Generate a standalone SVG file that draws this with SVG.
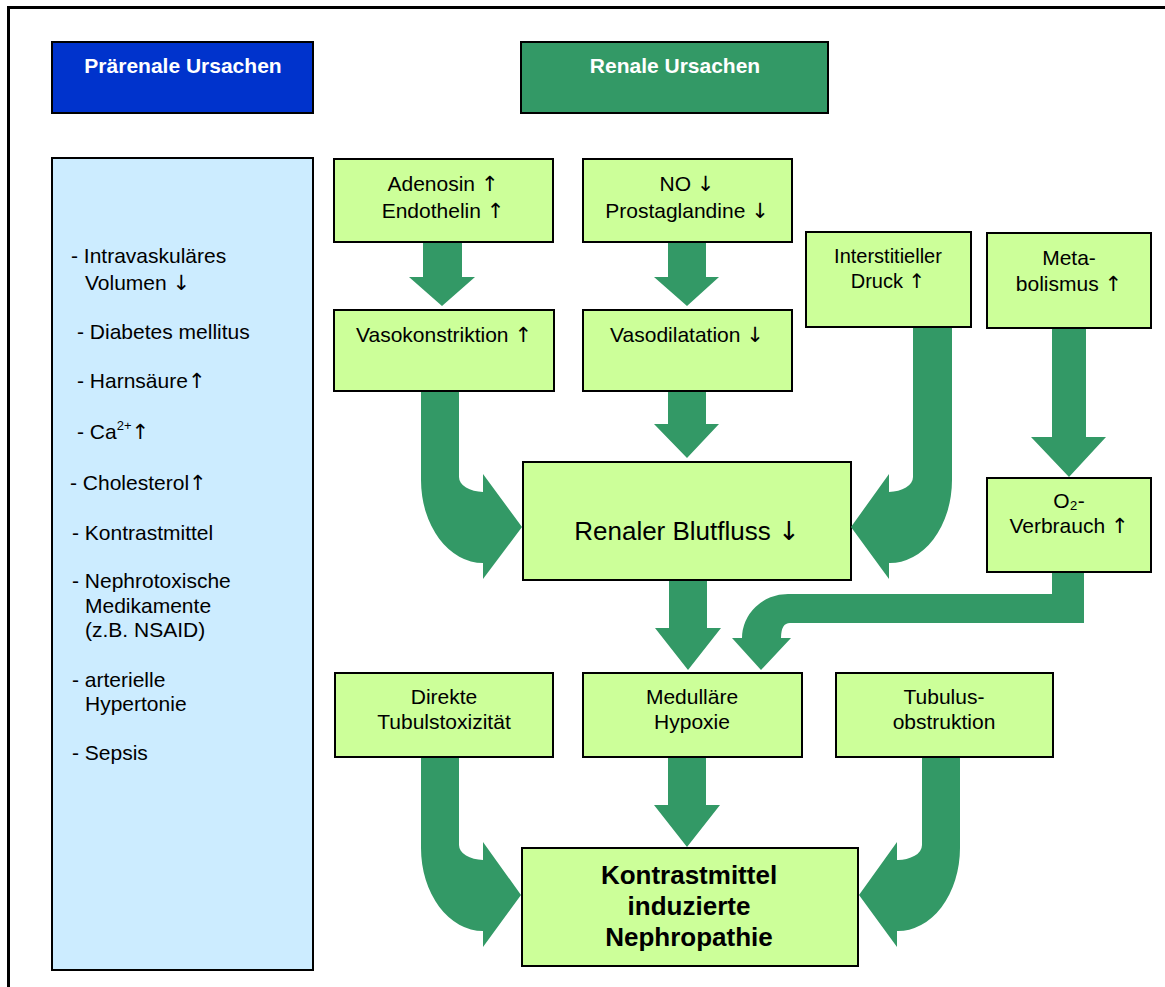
<svg xmlns="http://www.w3.org/2000/svg" width="1165" height="987" viewBox="0 0 1165 987">
<style>
.box{fill:#CCFF99;stroke:#000;stroke-width:2}
.arr{fill:#339966}
.t{font-family:"Liberation Sans",Arial,"DejaVu Sans",sans-serif;font-size:21px;fill:#000}
.m{text-anchor:middle}
.s20{font-size:20px}
.big{font-size:26px}
.bold{font-size:26px;font-weight:bold}
.ar{font-family:"DejaVu Sans",sans-serif;font-weight:normal}
.h{font-family:"Liberation Sans",Arial,sans-serif;font-size:21px;font-weight:bold;fill:#fff;text-anchor:middle}
</style>
<rect x="0" y="0" width="1165" height="987" fill="#fff"/>
<rect x="8.5" y="7.5" width="1170" height="1000" fill="none" stroke="#000" stroke-width="3"/>

<g id="praerenal-header">
<rect x="52" y="42" width="261" height="71" fill="#0033CC" stroke="#000" stroke-width="2"/>
<text class="h" x="183" y="73">Prärenale Ursachen</text>
</g>
<g id="renal-header">
<rect x="521" y="42" width="307" height="71" fill="#339966" stroke="#000" stroke-width="2"/>
<text class="h" x="675" y="73">Renale Ursachen</text>
</g>

<g id="praerenal-list">
<rect x="52" y="158" width="261" height="812" fill="#CCECFF" stroke="#000" stroke-width="2"/>
<text class="t" x="71" y="263">- Intravaskuläres</text>
<text class="t" x="85" y="290">Volumen <tspan class="ar">↓</tspan></text>
<text class="t" x="77" y="339">- Diabetes mellitus</text>
<text class="t" x="77" y="388">- Harnsäure<tspan class="ar">↑</tspan></text>
<text class="t" x="77" y="439">- Ca<tspan style="font-size:13px" dy="-9">2+</tspan><tspan class="ar" dy="9">↑</tspan></text>
<text class="t" x="70" y="490">- Cholesterol<tspan class="ar">↑</tspan></text>
<text class="t" x="72" y="540">- Kontrastmittel</text>
<text class="t" x="72" y="588">- Nephrotoxische</text>
<text class="t" x="85" y="613">Medikamente</text>
<text class="t" x="85" y="637">(z.B. NSAID)</text>
<text class="t" x="72" y="687">- arterielle</text>
<text class="t" x="85" y="711">Hypertonie</text>
<text class="t" x="72" y="760">- Sepsis</text>
</g>

<g id="adenosin">
<rect class="box" x="334" y="159" width="219" height="83"/>
<text class="t m" x="443" y="191">Adenosin <tspan class="ar">↑</tspan></text>
<text class="t m" x="443" y="218">Endothelin <tspan class="ar">↑</tspan></text>
</g>
<g id="no">
<rect class="box" x="583" y="159" width="209" height="83"/>
<text class="t m" x="687" y="191">NO <tspan class="ar">↓</tspan></text>
<text class="t m" x="687" y="218">Prostaglandine <tspan class="ar">↓</tspan></text>
</g>
<g id="vasokonstriktion">
<rect class="box" x="334" y="310" width="220" height="81"/>
<text class="t m" x="444" y="342">Vasokonstriktion <tspan class="ar">↑</tspan></text>
</g>
<g id="vasodilatation">
<rect class="box" x="583" y="310" width="209" height="81"/>
<text class="t m" x="687" y="342">Vasodilatation <tspan class="ar">↓</tspan></text>
</g>
<g id="interstitieller-druck">
<rect class="box" x="806" y="232" width="165" height="95"/>
<text class="t m s20" x="888" y="263">Interstitieller</text>
<text class="t m s20" x="888" y="288">Druck <tspan class="ar">↑</tspan></text>
</g>
<g id="metabolismus">
<rect class="box" x="987" y="233" width="164" height="95"/>
<text class="t m" x="1069" y="265">Meta-</text>
<text class="t m" x="1069" y="291">bolismus <tspan class="ar">↑</tspan></text>
</g>
<g id="o2-verbrauch">
<rect class="box" x="987" y="478" width="164" height="94"/>
<text class="t m" x="1069" y="508">O₂-</text>
<text class="t m" x="1069" y="533">Verbrauch <tspan class="ar">↑</tspan></text>
</g>
<g id="renaler-blutfluss">
<rect class="box" x="523" y="462" width="328" height="118"/>
<text class="t m big" x="687" y="540">Renaler Blutfluss <tspan class="ar">↓</tspan></text>
</g>
<g id="direkte">
<rect class="box" x="335" y="673" width="218" height="84"/>
<text class="t m" x="444" y="704">Direkte</text>
<text class="t m" x="444" y="729">Tubulstoxizität</text>
</g>
<g id="medullaere-hypoxie">
<rect class="box" x="583" y="673" width="219" height="84"/>
<text class="t m" x="692" y="704">Medulläre</text>
<text class="t m" x="692" y="729">Hypoxie</text>
</g>
<g id="tubulusobstruktion">
<rect class="box" x="836" y="673" width="217" height="84"/>
<text class="t m" x="944" y="704">Tubulus-</text>
<text class="t m" x="944" y="729">obstruktion</text>
</g>
<g id="nephropathie">
<rect class="box" x="522" y="848" width="336" height="118"/>
<text class="t m bold" x="689" y="884">Kontrastmittel</text>
<text class="t m bold" x="689" y="915">induzierte</text>
<text class="t m bold" x="689" y="946">Nephropathie</text>
</g>

<g id="connectors">
<polygon class="arr" points="423,243 462,243 462,277 475,277 442,306 409,277 423,277"/>
<polygon class="arr" points="668,243 706,243 706,277 719,277 687,306 654,277 668,277"/>
<polygon class="arr" points="668,392 706,392 706,424 719,424 687,458 654,424 668,424"/>
<polygon class="arr" points="669,581 707,581 707,628 721,628 688,670 655,628 669,628"/>
<polygon class="arr" points="668,758 706,758 706,805 720,805 687,847 654,805 668,805"/>
<polygon class="arr" points="1052,329 1086,329 1086,437 1106,437 1069,477 1031,437 1052,437"/>
<path class="arr" d="M421,392 H459 V477 A24,15 0 0 0 483,492 V474 L522,527 L483,579 V563 A62,83 0 0 1 421,480 Z"/>
<path class="arr" d="M952,328 H913 V477 A24,15 0 0 1 889,492 V474 L851,527 L889,579 V563 A62,83 0 0 0 952,480 Z"/>
<path class="arr" d="M421,758 H459 V845 A24,15 0 0 0 483,860 V842 L521,895 L483,947 V931 A62,83 0 0 1 421,848 Z"/>
<path class="arr" d="M960,758 H922 V845 A24,15 0 0 1 897,860 V842 L859,895 L897,947 V931 A62,83 0 0 0 960,848 Z"/>
<path class="arr" d="M1052,573 H1084 V623 H790 Q781,623 781,638 H791 L761,670 L732,638 H742 A46,44 0 0 1 788,594 H1052 Z"/>
</g>
</svg>
